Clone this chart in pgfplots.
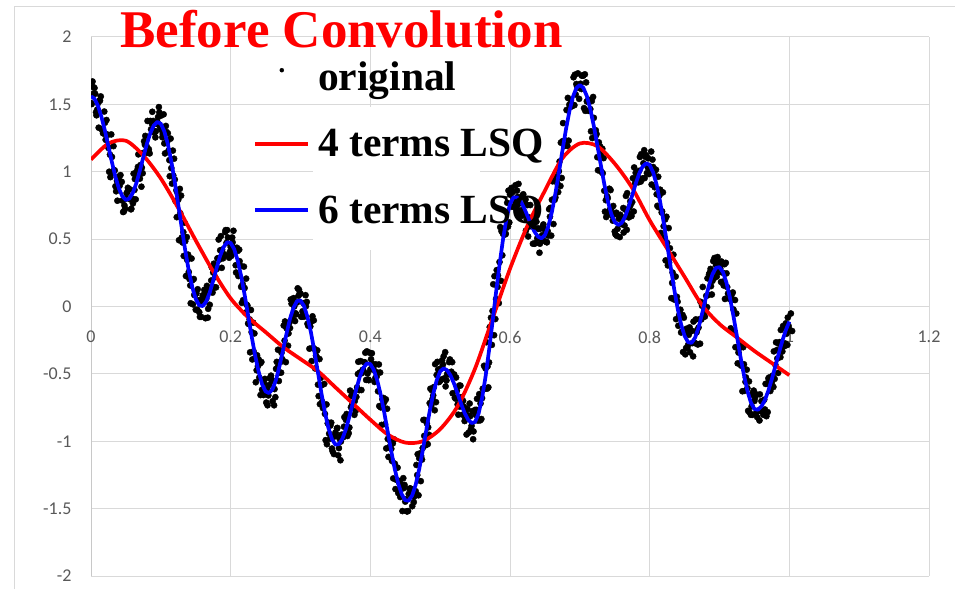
\documentclass[border=0pt]{standalone}
\usepackage{fontspec}
\setmainfont{Liberation Serif}
\newfontfamily\calibri{Carlito}
\usepackage{pgfplots}
\pgfplotsset{compat=1.18}
\usepackage{pgfplotstable}

\definecolor{gridgray}{HTML}{D9D9D9}
\definecolor{axisgray}{HTML}{C8C8C8}
\definecolor{labelgray}{HTML}{595959}

\pgfplotsset{
  dotlegend/.style={legend image code/.code={\draw[##1, mark size=2pt] plot coordinates {(26.5pt,20pt)};}},
  linelegend/.style={legend image code/.code={\draw[##1] (0pt,13pt) -- (53pt,13pt);}},
}

% noisy samples
\pgfplotstableread{
x y
-0.004 1.62
0.001 1.502
0.006 1.579
0.011 1.327
0.016 1.314
0.021 1.237
0.026 1.00
0.031 0.992
0.036 0.855
0.041 0.896
0.046 0.701
0.051 0.841
0.056 0.795
0.061 0.986
0.066 1.009
0.071 1.05
0.076 1.226
0.081 1.377
0.086 1.315
0.091 1.29
0.096 1.406
0.101 1.31
0.106 1.136
0.111 1.157
0.116 0.912
0.121 0.783
0.126 0.492
0.131 0.475
0.136 0.226
0.141 0.204
0.146 0.016
0.151 0.098
0.156 -0.077
0.161 0.047
0.166 0.153
0.171 0.122
0.176 0.318
0.181 0.357
0.186 0.522
0.191 0.387
0.196 0.512
0.201 0.376
0.206 0.412
0.211 0.226
0.216 0.027
0.221 -0.046
0.226 -0.13
0.231 -0.393
0.236 -0.562
0.241 -0.527
0.246 -0.62
0.251 -0.713
0.256 -0.533
0.261 -0.553
0.266 -0.411
0.271 -0.413
0.276 -0.141
0.281 -0.13
0.286 0.052
0.291 0.0
0.296 0.135
0.301 -0.076
0.306 -0.068
0.311 -0.143
0.316 -0.405
0.321 -0.46
0.326 -0.665
0.331 -0.707
0.336 -0.992
0.341 -0.944
0.346 -1.075
0.351 -0.951
0.356 -0.982
0.361 -0.971
0.366 -0.798
0.371 -0.624
0.376 -0.641
0.381 -0.60
0.386 -0.405
0.391 -0.413
0.396 -0.497
0.401 -0.391
0.406 -0.56
0.411 -0.629
0.416 -0.879
0.421 -0.873
0.426 -1.116
0.431 -1.146
0.436 -1.355
0.441 -1.304
0.446 -1.518
0.451 -1.431
0.456 -1.352
0.461 -1.391
0.466 -1.176
0.471 -1.09
0.476 -0.842
0.481 -0.867
0.486 -0.61
0.491 -0.598
0.496 -0.411
0.501 -0.459
0.506 -0.533
0.511 -0.493
0.516 -0.484
0.521 -0.677
0.526 -0.803
0.531 -0.74
0.536 -0.83
0.541 -0.935
0.546 -0.777
0.551 -0.805
0.556 -0.65
0.561 -0.61
0.566 -0.265
0.571 -0.153
0.576 0.165
0.581 0.27
0.586 0.589
0.591 0.574
0.596 0.77
0.601 0.86
0.606 0.74
0.611 0.813
0.616 0.714
0.621 0.753
0.626 0.52
0.631 0.596
0.636 0.469
0.641 0.576
0.646 0.529
0.651 0.536
0.656 0.722
0.661 0.929
0.666 0.964
0.671 1.076
0.676 1.361
0.681 1.458
0.686 1.484
0.691 1.701
0.696 1.634
0.701 1.653
0.706 1.472
0.711 1.525
0.716 1.30
0.721 1.258
0.726 1.011
0.731 0.999
0.736 0.704
0.741 0.697
0.746 0.676
0.751 0.535
0.756 0.651
0.761 0.649
0.766 0.821
0.771 0.735
0.776 0.952
0.781 0.937
0.786 1.11
0.791 1.063
0.796 0.99
0.801 1.015
0.806 0.993
0.811 0.747
0.816 0.546
0.821 0.512
0.826 0.305
0.831 0.062
0.836 0.066
0.841 -0.143
0.846 -0.188
0.851 -0.355
0.856 -0.21
0.861 -0.272
0.866 -0.096
0.871 -0.095
0.876 0.145
0.881 0.079
0.886 0.251
0.891 0.337
0.896 0.222
0.901 0.284
0.906 0.156
0.911 0.144
0.916 -0.162
0.921 -0.182
0.926 -0.422
0.931 -0.439
0.936 -0.626
0.941 -0.774
0.946 -0.741
0.951 -0.676
0.956 -0.772
0.961 -0.774
0.966 -0.574
0.971 -0.527
0.976 -0.513
0.981 -0.266
0.986 -0.264
0.991 -0.145
0.996 -0.202
0.000 1.51
0.005 1.622
0.010 1.509
0.015 1.317
0.020 1.364
0.025 1.177
0.030 1.11
0.035 0.892
0.040 0.965
0.045 0.786
0.050 0.801
0.055 0.871
0.060 0.765
0.065 0.966
0.070 0.949
0.075 1.14
0.080 1.186
0.085 1.377
0.090 1.305
0.095 1.37
0.100 1.416
0.105 1.21
0.110 1.286
0.115 1.027
0.120 0.942
0.125 0.793
0.130 0.512
0.135 0.485
0.140 0.256
0.145 0.194
0.150 -0.024
0.155 -0.042
0.160 0.083
0.165 0.057
0.170 0.013
0.175 0.252
0.180 0.278
0.185 0.417
0.190 0.372
0.195 0.567
0.200 0.442
0.205 0.436
0.210 0.412
0.215 0.146
0.220 0.137
0.225 -0.126
0.230 -0.19
0.235 -0.383
0.240 -0.392
0.245 -0.617
0.250 -0.63
0.255 -0.583
0.260 -0.703
0.265 -0.463
0.270 -0.491
0.275 -0.303
0.280 -0.161
0.285 -0.16
0.290 0.062
0.295 0.03
0.300 0.095
0.305 -0.076
0.310 -0.128
0.315 -0.113
0.320 -0.315
0.325 -0.58
0.330 -0.585
0.335 -0.797
0.340 -0.862
0.345 -1.054
0.350 -0.935
0.355 -1.051
0.360 -0.972
0.365 -0.841
0.370 -0.898
0.375 -0.664
0.380 -0.671
0.385 -0.49
0.390 -0.475
0.395 -0.333
0.400 -0.467
0.405 -0.471
0.410 -0.49
0.415 -0.749
0.420 -0.709
0.425 -0.983
0.430 -1.056
0.435 -1.166
0.440 -1.385
0.445 -1.324
0.450 -1.448
0.455 -1.391
0.460 -1.482
0.465 -1.371
0.470 -1.126
0.475 -1.05
0.480 -1.012
0.485 -0.717
0.490 -0.66
0.495 -0.508
0.500 -0.551
0.505 -0.369
0.510 -0.503
0.515 -0.503
0.520 -0.504
0.525 -0.727
0.530 -0.673
0.535 -0.85
0.540 -0.81
0.545 -0.885
0.550 -0.767
0.555 -0.835
0.560 -0.68
0.565 -0.46
0.570 -0.415
0.575 -0.033
0.580 0.055
0.585 0.33
0.590 0.539
0.595 0.584
0.600 0.83
0.605 0.80
0.610 0.86
0.615 0.703
0.620 0.684
0.625 0.753
0.630 0.63
0.635 0.466
0.640 0.579
0.645 0.496
0.650 0.569
0.655 0.526
0.660 0.792
0.665 0.809
0.670 1.004
0.675 1.226
0.680 1.231
0.685 1.498
0.690 1.494
0.695 1.651
0.700 1.624
0.705 1.713
0.710 1.522
0.715 1.465
0.720 1.40
0.725 1.108
0.730 1.131
0.735 0.859
0.740 0.804
0.745 0.727
0.750 0.556
0.755 0.675
0.760 0.611
0.765 0.719
0.770 0.661
0.775 0.775
0.780 0.992
0.785 1.007
0.790 0.95
0.795 1.123
0.800 1.04
0.805 1.035
0.810 0.833
0.815 0.867
0.820 0.596
0.825 0.472
0.830 0.365
0.835 0.052
0.840 0.036
0.845 -0.193
0.850 -0.188
0.855 -0.285
0.860 -0.18
0.865 -0.272
0.870 -0.156
0.875 0.005
0.880 -0.035
0.885 0.239
0.890 0.191
0.895 0.307
0.900 0.332
0.905 0.184
0.910 0.246
0.915 0.054
0.920 -0.022
0.925 -0.302
0.930 -0.422
0.935 -0.429
0.940 -0.606
0.945 -0.804
0.950 -0.701
0.955 -0.776
0.960 -0.702
0.965 -0.764
0.970 -0.534
0.975 -0.567
0.980 -0.433
0.985 -0.276
0.990 -0.334
0.995 -0.125
1.000 -0.172
0.004 1.58
0.009 1.462
0.014 1.559
0.019 1.447
0.024 1.274
0.029 1.277
0.034 1.01
0.039 0.952
0.044 0.925
0.049 0.726
0.054 0.871
0.059 0.801
0.064 0.795
0.069 0.976
0.074 0.989
0.079 1.14
0.084 1.136
0.089 1.377
0.094 1.355
0.099 1.33
0.104 1.426
0.109 1.22
0.114 1.246
0.119 1.097
0.124 0.842
0.129 0.823
0.134 0.622
0.139 0.385
0.144 0.356
0.149 0.084
0.154 0.046
0.159 0.058
0.164 -0.087
0.169 0.117
0.174 0.103
0.179 0.142
0.184 0.348
0.189 0.357
0.194 0.472
0.199 0.407
0.204 0.562
0.209 0.436
0.214 0.302
0.219 0.296
0.224 0.007
0.229 -0.026
0.234 -0.20
0.239 -0.443
0.244 -0.412
0.249 -0.537
0.254 -0.66
0.259 -0.553
0.264 -0.673
0.269 -0.553
0.274 -0.391
0.279 -0.413
0.284 -0.121
0.289 -0.09
0.294 -0.058
0.299 0.10
0.304 0.025
0.309 0.034
0.314 -0.148
0.319 -0.103
0.324 -0.325
0.329 -0.53
0.334 -0.575
0.339 -0.867
0.344 -0.862
0.349 -0.964
0.354 -1.105
0.359 -0.951
0.364 -0.942
0.369 -0.941
0.374 -0.728
0.379 -0.774
0.384 -0.621
0.389 -0.47
0.394 -0.545
0.399 -0.343
0.404 -0.427
0.409 -0.521
0.414 -0.49
0.419 -0.679
0.424 -0.759
0.429 -1.003
0.434 -0.986
0.439 -1.196
0.444 -1.355
0.449 -1.324
0.454 -1.518
0.459 -1.401
0.464 -1.382
0.469 -1.401
0.474 -1.136
0.479 -1.03
0.484 -0.952
0.489 -0.687
0.494 -0.71
0.499 -0.558
0.504 -0.431
0.509 -0.549
0.514 -0.393
0.519 -0.513
0.524 -0.624
0.529 -0.587
0.534 -0.743
0.539 -0.76
0.544 -0.91
0.549 -0.775
0.554 -0.847
0.559 -0.835
0.564 -0.61
0.569 -0.60
0.574 -0.285
0.579 -0.093
0.584 0.025
0.589 0.38
0.594 0.539
0.599 0.624
0.604 0.85
0.609 0.75
0.614 0.80
0.619 0.833
0.624 0.644
0.629 0.753
0.634 0.61
0.639 0.506
0.644 0.579
0.649 0.486
0.654 0.559
0.659 0.526
0.664 0.792
0.669 0.849
0.674 0.954
0.679 1.226
0.684 1.231
0.689 1.488
0.694 1.574
0.699 1.541
0.704 1.714
0.709 1.663
0.714 1.532
0.719 1.555
0.724 1.28
0.729 1.188
0.734 1.101
0.739 0.819
0.744 0.864
0.749 0.687
0.754 0.576
0.759 0.665
0.764 0.601
0.769 0.699
0.774 0.671
0.779 0.915
0.784 0.922
0.789 0.947
0.794 1.11
0.799 0.983
0.804 1.09
0.809 1.015
0.814 0.823
0.819 0.847
0.824 0.666
0.829 0.432
0.834 0.385
0.839 0.072
0.844 -0.024
0.849 -0.083
0.854 -0.308
0.859 -0.185
0.864 -0.27
0.869 -0.282
0.874 -0.096
0.879 -0.075
0.884 0.085
0.889 0.089
0.894 0.331
0.899 0.297
0.904 0.252
0.909 0.324
0.914 0.096
0.919 0.104
0.924 -0.052
0.929 -0.302
0.934 -0.302
0.939 -0.469
0.944 -0.656
0.949 -0.624
0.954 -0.821
0.959 -0.776
0.964 -0.692
0.969 -0.784
0.974 -0.544
0.979 -0.537
0.984 -0.493
0.989 -0.286
0.994 -0.274
0.999 -0.145
1.004 -0.182
0.0022 1.67
0.0072 1.442
0.0122 1.529
0.0172 1.287
0.0222 1.384
0.0272 1.127
0.0322 1.19
0.0372 0.932
0.0422 0.975
0.0472 0.706
0.0522 0.851
0.0572 0.721
0.0622 0.865
0.0672 1.036
0.0722 0.889
0.0772 1.20
0.0822 1.156
0.0872 1.357
0.0922 1.255
0.0972 1.48
0.1022 1.256
0.1072 1.34
0.1122 1.086
0.1172 1.157
0.1222 0.862
0.1272 0.873
0.1322 0.552
0.1372 0.515
0.1422 0.156
0.1472 0.204
0.1522 -0.024
0.1572 0.028
0.1622 0.123
0.1672 -0.083
0.1722 0.193
0.1772 0.142
0.1822 0.358
0.1872 0.287
0.1922 0.552
0.1972 0.377
0.2022 0.512
0.2072 0.306
0.2122 0.422
0.2172 0.166
0.2222 0.207
0.2272 -0.096
0.2322 -0.12
0.2372 -0.473
0.2422 -0.422
0.2472 -0.657
0.2522 -0.61
0.2572 -0.523
0.2622 -0.733
0.2672 -0.453
0.2722 -0.491
0.2772 -0.253
0.2822 -0.291
0.2872 0.02
0.2922 -0.108
0.2972 0.08
0.3022 -0.075
0.3072 0.084
0.3122 -0.138
0.3172 -0.073
0.3222 -0.365
0.3272 -0.39
0.3322 -0.755
0.3372 -0.727
0.3422 -0.982
0.3472 -0.964
0.3522 -0.905
0.3572 -1.141
0.3622 -0.892
0.3672 -0.961
0.3722 -0.748
0.3772 -0.804
0.3822 -0.501
0.3872 -0.62
0.3922 -0.415
0.3972 -0.543
0.4022 -0.347
0.4072 -0.531
0.4122 -0.43
0.4172 -0.689
0.4222 -0.689
0.4272 -1.043
0.4322 -1.016
0.4372 -1.286
0.4422 -1.295
0.4472 -1.274
0.4522 -1.52
0.4572 -1.351
0.4622 -1.452
0.4672 -1.251
0.4722 -1.296
0.4772 -0.96
0.4822 -1.022
0.4872 -0.737
0.4922 -0.77
0.4972 -0.468
0.5022 -0.541
0.5072 -0.339
0.5122 -0.503
0.5172 -0.413
0.5222 -0.684
0.5272 -0.587
0.5322 -0.803
0.5372 -0.77
0.5422 -0.72
0.5472 -0.985
0.5522 -0.767
0.5572 -0.845
0.5622 -0.61
0.5672 -0.61
0.5722 -0.215
0.5772 -0.213
0.5822 0.145
0.5872 0.19
0.5922 0.579
0.5972 0.594
0.6022 0.88
0.6072 0.78
0.6122 0.91
0.6172 0.673
0.6222 0.794
0.6272 0.593
0.6322 0.63
0.6372 0.676
0.6422 0.399
0.6472 0.596
0.6522 0.479
0.6572 0.666
0.6622 0.612
0.6672 0.949
0.6722 0.894
0.6772 1.196
0.6822 1.191
0.6872 1.528
0.6922 1.494
0.6972 1.73
0.7022 1.614
0.7072 1.723
0.7122 1.452
0.7172 1.525
0.7222 1.26
0.7272 1.218
0.7322 1.171
0.7372 0.789
0.7422 0.874
0.7472 0.637
0.7522 0.696
0.7572 0.515
0.7622 0.731
0.7672 0.569
0.7722 0.781
0.7772 0.705
0.7822 0.992
0.7872 0.927
0.7922 1.16
0.7972 1.033
0.8022 1.15
0.8072 0.885
0.8122 0.963
0.8172 0.697
0.8222 0.646
0.8272 0.582
0.8322 0.175
0.8372 0.222
0.8422 -0.064
0.8472 -0.063
0.8522 -0.308
0.8572 -0.155
0.8622 -0.37
0.8672 -0.192
0.8722 -0.276
0.8772 0.025
0.8822 -0.005
0.8872 0.279
0.8922 0.211
0.8972 0.367
0.9022 0.182
0.9072 0.314
0.9122 0.096
0.9172 0.084
0.9222 0.048
0.9272 -0.342
0.9322 -0.282
0.9372 -0.559
0.9422 -0.556
0.9472 -0.804
0.9522 -0.651
0.9572 -0.846
0.9622 -0.702
0.9672 -0.814
0.9722 -0.544
0.9772 -0.597
0.9822 -0.323
0.9872 -0.376
0.9922 -0.154
0.9972 -0.285
1.0022 -0.052
-0.0022 1.44
0.0028 1.63
0.0078 1.419
0.0128 1.527
0.0178 1.284
0.0228 1.277
0.0278 0.96
0.0328 1.012
0.0378 0.785
0.0428 0.926
0.0478 0.751
0.0528 0.881
0.0578 0.725
0.0628 0.946
0.0678 1.129
0.0728 1.03
0.0778 1.266
0.0828 1.167
0.0878 1.445
0.0928 1.30
0.0978 1.44
0.1028 1.28
0.1078 1.296
0.1128 0.967
0.1178 0.972
0.1228 0.663
0.1278 0.692
0.1328 0.375
0.1378 0.346
0.1428 0.024
0.1478 0.086
0.1528 0.128
0.1578 -0.077
0.1628 0.097
0.1678 -0.017
0.1728 0.292
0.1778 0.218
0.1828 0.497
0.1878 0.422
0.1928 0.567
0.1978 0.362
0.2028 0.476
0.2078 0.252
0.2128 0.336
0.2178 0.047
0.2228 0.014
0.2278 -0.34
0.2328 -0.333
0.2378 -0.362
0.2428 -0.657
0.2478 -0.57
0.2528 -0.733
0.2578 -0.513
0.2628 -0.613
0.2678 -0.321
0.2728 -0.343
0.2778 -0.111
0.2828 -0.20
0.2878 0.042
0.2928 -0.05
0.2978 0.125
0.3028 -0.036
0.3078 0.002
0.3128 -0.313
0.3178 -0.305
0.3228 -0.37
0.3278 -0.725
0.3328 -0.727
0.3378 -1.022
0.3428 -0.884
0.3478 -1.095
0.3528 -0.901
0.3578 -1.002
0.3628 -0.821
0.3678 -0.928
0.3728 -0.664
0.3778 -0.701
0.3828 -0.41
0.3878 -0.495
0.3928 -0.343
0.3978 -0.547
0.4028 -0.441
0.4078 -0.43
0.4128 -0.739
0.4178 -0.729
0.4228 -1.053
0.4278 -0.976
0.4328 -1.276
0.4378 -1.195
0.4428 -1.414
0.4478 -1.348
0.4528 -1.52
0.4578 -1.352
0.4628 -1.411
0.4678 -1.096
0.4728 -1.11
0.4778 -0.842
0.4828 -0.897
0.4878 -0.62
0.4928 -0.428
0.4978 -0.561
0.5028 -0.399
0.5078 -0.593
0.5128 -0.413
0.5178 -0.644
0.5228 -0.527
0.5278 -0.743
0.5328 -0.70
0.5378 -0.95
0.5428 -0.815
0.5478 -0.927
0.5528 -0.685
0.5578 -0.72
0.5628 -0.44
0.5678 -0.445
0.5728 -0.083
0.5778 0.225
0.5828 0.23
0.5878 0.559
0.5928 0.534
0.5978 0.86
0.6028 0.74
0.6078 0.90
0.6128 0.763
0.6178 0.824
0.6228 0.563
0.6278 0.66
0.6328 0.466
0.6378 0.629
0.6428 0.466
0.6478 0.609
0.6528 0.476
0.6578 0.732
0.6628 0.959
0.6678 0.914
0.6728 1.216
0.6778 1.191
0.6828 1.548
0.6878 1.484
0.6928 1.72
0.6978 1.624
0.7028 1.713
0.7078 1.452
0.7128 1.515
0.7178 1.25
0.7228 1.308
0.7278 1.011
0.7328 0.989
0.7378 0.664
0.7428 0.717
0.7478 0.746
0.7528 0.525
0.7578 0.681
0.7628 0.549
0.7678 0.841
0.7728 0.755
0.7778 1.032
0.7828 0.967
0.7878 1.13
0.7928 0.953
0.7978 1.10
0.8028 0.905
0.8078 1.013
0.8128 0.737
0.8178 0.706
0.8228 0.342
0.8278 0.325
0.8328 0.252
0.8378 -0.094
0.8428 -0.073
0.8478 -0.338
0.8528 -0.165
0.8578 -0.34
0.8628 -0.112
0.8678 -0.176
0.8728 0.035
0.8778 -0.055
0.8828 0.209
0.8878 0.151
0.8928 0.36
0.8978 0.252
0.9028 0.334
0.9078 0.056
0.9128 0.094
0.9178 0.048
0.9228 -0.302
0.9278 -0.312
0.9328 -0.629
0.9378 -0.526
0.9428 -0.784
0.9478 -0.641
0.9528 -0.786
0.9578 -0.652
0.9628 -0.804
0.9678 -0.574
0.9728 -0.627
0.9778 -0.333
0.9828 -0.386
0.9878 -0.174
0.9928 -0.295
0.9978 -0.082
}\original

% six-term least-squares fit
\pgfplotstableread{
x y
0.000 1.56
0.005 1.542
0.010 1.489
0.015 1.407
0.020 1.304
0.025 1.187
0.030 1.07
0.035 0.962
0.040 0.875
0.045 0.816
0.050 0.791
0.055 0.801
0.060 0.845
0.065 0.916
0.070 1.009
0.075 1.11
0.080 1.206
0.085 1.287
0.090 1.345
0.095 1.37
0.100 1.356
0.105 1.30
0.110 1.206
0.115 1.077
0.120 0.922
0.125 0.753
0.130 0.582
0.135 0.415
0.140 0.266
0.145 0.144
0.150 0.056
0.155 0.008
0.160 0.003
0.165 0.037
0.170 0.103
0.175 0.192
0.180 0.288
0.185 0.377
0.190 0.442
0.195 0.477
0.200 0.472
0.205 0.426
0.210 0.342
0.215 0.226
0.220 0.087
0.225 -0.066
0.230 -0.22
0.235 -0.363
0.240 -0.482
0.245 -0.577
0.250 -0.63
0.255 -0.643
0.260 -0.613
0.265 -0.543
0.270 -0.441
0.275 -0.323
0.280 -0.201
0.285 -0.09
0.290 -0.008
0.295 0.040
0.300 0.045
0.305 0.004
0.310 -0.078
0.315 -0.193
0.320 -0.335
0.325 -0.49
0.330 -0.645
0.335 -0.787
0.340 -0.902
0.345 -0.984
0.350 -1.025
0.355 -1.021
0.360 -0.982
0.365 -0.911
0.370 -0.818
0.375 -0.714
0.380 -0.611
0.385 -0.52
0.390 -0.455
0.395 -0.423
0.400 -0.427
0.405 -0.471
0.410 -0.55
0.415 -0.659
0.420 -0.789
0.425 -0.933
0.430 -1.076
0.435 -1.206
0.440 -1.315
0.445 -1.394
0.450 -1.438
0.455 -1.441
0.460 -1.402
0.465 -1.321
0.470 -1.206
0.475 -1.07
0.480 -0.922
0.485 -0.777
0.490 -0.65
0.495 -0.548
0.500 -0.481
0.505 -0.459
0.510 -0.473
0.515 -0.513
0.520 -0.574
0.525 -0.647
0.530 -0.723
0.535 -0.79
0.540 -0.84
0.545 -0.865
0.550 -0.857
0.555 -0.795
0.560 -0.68
0.565 -0.52
0.570 -0.325
0.575 -0.113
0.580 0.105
0.585 0.31
0.590 0.499
0.595 0.654
0.600 0.76
0.605 0.81
0.610 0.81
0.615 0.783
0.620 0.734
0.625 0.673
0.630 0.61
0.635 0.556
0.640 0.519
0.645 0.506
0.650 0.529
0.655 0.596
0.660 0.702
0.665 0.839
0.670 0.994
0.675 1.156
0.680 1.311
0.685 1.448
0.690 1.554
0.695 1.621
0.700 1.644
0.705 1.623
0.710 1.562
0.715 1.465
0.720 1.34
0.725 1.198
0.730 1.051
0.735 0.909
0.740 0.784
0.745 0.687
0.750 0.626
0.755 0.605
0.760 0.621
0.765 0.669
0.770 0.741
0.775 0.825
0.780 0.912
0.785 0.987
0.790 1.04
0.795 1.063
0.800 1.05
0.805 0.995
0.810 0.903
0.815 0.777
0.820 0.626
0.825 0.462
0.830 0.295
0.835 0.132
0.840 -0.014
0.845 -0.133
0.850 -0.218
0.855 -0.265
0.860 -0.27
0.865 -0.232
0.870 -0.156
0.875 -0.055
0.880 0.055
0.885 0.159
0.890 0.241
0.895 0.287
0.900 0.292
0.905 0.254
0.910 0.176
0.915 0.064
0.920 -0.072
0.925 -0.222
0.930 -0.372
0.935 -0.509
0.940 -0.626
0.945 -0.714
0.950 -0.761
0.955 -0.766
0.960 -0.742
0.965 -0.694
0.970 -0.624
0.975 -0.537
0.980 -0.443
0.985 -0.346
0.990 -0.254
0.995 -0.175
1.000 -0.112
}\fitsix

% four-term least-squares fit
\pgfplotstableread{
x y
0.000 1.09
0.025 1.21
0.050 1.23
0.075 1.12
0.100 0.95
0.125 0.73
0.150 0.49
0.175 0.26
0.200 0.06
0.225 -0.08
0.250 -0.19
0.275 -0.30
0.300 -0.39
0.325 -0.48
0.350 -0.60
0.375 -0.72
0.400 -0.84
0.425 -0.95
0.450 -1.01
0.475 -1.00
0.500 -0.91
0.525 -0.74
0.550 -0.46
0.575 -0.09
0.600 0.28
0.625 0.60
0.650 0.86
0.675 1.10
0.700 1.21
0.725 1.19
0.750 1.06
0.775 0.88
0.800 0.64
0.825 0.43
0.850 0.22
0.875 0.01
0.900 -0.13
0.925 -0.23
0.950 -0.33
0.975 -0.42
1.000 -0.51
}\fitfour

\begin{document}
\begin{tikzpicture}[x=1pt,y=1pt]
\useasboundingbox (0,0) rectangle (955,589);
% chart frame
\draw[gridgray, line width=1pt] (14,0) -- (14,582) -- (955,582);
\begin{axis}[
  at={(91pt,13pt)}, anchor=south west,
  scale only axis, width=838pt, height=539pt,
  xmin=0, xmax=1.2, ymin=-2, ymax=2,
  axis x line=middle, axis y line=left,
  x axis line style={-, gridgray, line width=1pt},
  y axis line style={-, axisgray, line width=1pt},
  xtick={0,0.2,0.4,0.6,0.8,1,1.2},
  ytick={-2,-1.5,-1,-0.5,0,0.5,1,1.5,2},
  major tick length=0pt,
  hide obscured x ticks=false,
  grid=major, major grid style={gridgray, line width=1pt},
  clip marker paths=true,
  /pgf/number format/assume math mode=true,
  ticklabel style={font=\calibri\fontsize{18}{18}\selectfont, text=labelgray},
  xticklabel style={anchor=north, yshift=-21pt},
  yticklabel style={anchor=east, xshift=-16pt},
  legend style={
    at={(0.1936,0.9573)}, anchor=north west,
    draw=none, fill=none, inner sep=0pt,
    font=\bfseries\fontsize{41.5}{41.5}\selectfont,
    row sep=26.5pt, column sep=8pt,
    nodes={inner sep=0pt, anchor=base west, text height=30pt, text depth=10pt},
  },
]
% white backdrop of the legend block
\fill[white] (axis cs:0.318,0.419) rectangle (axis cs:0.557,1.48);

\addplot[only marks, mark=*, mark size=3.1pt, black, dotlegend]
  table {\original};
\addlegendentry{original}

\addplot[red, line width=3.7pt, smooth, line join=round, linelegend]
  table {\fitfour};
\addlegendentry{4 terms LSQ}

\addplot[blue, line width=3.7pt, line join=round, linelegend]
  table {\fitsix};
\addlegendentry{6 terms LSQ}
\end{axis}
\node[anchor=base, text=red, font=\bfseries\fontsize{53}{53}\selectfont]
  at (341.5,541) {Before Convolution};
\end{tikzpicture}
\end{document}
